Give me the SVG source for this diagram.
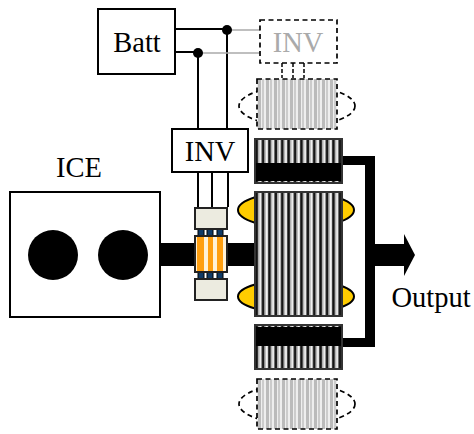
<svg xmlns="http://www.w3.org/2000/svg" width="474" height="434" viewBox="0 0 474 434">
<style>
text{font-family:"Liberation Serif","Times New Roman",serif;font-size:28.5px;fill:#000;text-anchor:middle}
.box{fill:#fff;stroke:#000;stroke-width:2}
.dash{stroke:#000;stroke-width:1.7;stroke-dasharray:5 3.5}
.wire{fill:none;stroke:#000;stroke-width:2}
.gray{fill:none;stroke:#aaa;stroke-width:1.5}
.y{fill:#ffcc00;stroke:#000;stroke-width:2}
.k{fill:#000}
.cream{fill:#ecebe0;stroke:#222;stroke-width:2}
.blue{fill:#0f3a66;stroke:#000;stroke-width:1}
</style>
<defs>
<pattern id="st" width="6.4" height="10" patternUnits="userSpaceOnUse" x="256"><rect width="6.4" height="10" fill="#f4f4f4"/><rect width="1.8" height="10" fill="#111"/><rect x="1.8" width="1.6" height="10" fill="#aaa"/><rect x="5.4" width="1" height="10" fill="#444"/></pattern>
<pattern id="st2" width="8" height="10" patternUnits="userSpaceOnUse" x="257"><rect width="8" height="10" fill="#eee"/><rect x="1" width="3" height="10" fill="#bbb"/><rect x="5" width="2" height="10" fill="#ccc"/></pattern>
</defs>
<g id="connectors">
<path class="wire" d="M175 29H227V129M175 52H198V129"/>
<path class="gray" d="M227 30H260M198 53H260"/>
<path class="wire" d="M198 172V207M212 172V207M228 172V207"/>
<path d="M282 63V78M293 63V78M304 63V78" fill="none" stroke="#000" stroke-width="1.5" stroke-dasharray="4 2"/>
<circle class="k" cx="227" cy="30" r="5"/><circle class="k" cx="198" cy="53" r="5"/>
<rect class="k" x="160" y="243" width="95" height="23"/>
<path class="k" d="M342 156H375V244H404V234L415 255L404 276V266H375V347H342V338H365V165H342Z"/>
</g>
<g id="batt"><rect class="box" x="98" y="9" width="77" height="65"/><text x="137" y="52">Batt</text></g>
<g id="inv-ghost"><rect x="260" y="20" width="77" height="43" fill="#fff" class="dash"/><text x="298" y="52" style="fill:#aaa">INV</text></g>
<g id="stator-ghost-top">
<ellipse cx="297" cy="106" rx="58" ry="20" fill="none" class="dash"/>
<rect x="257" y="79" width="80" height="50" fill="url(#st2)" class="dash"/>
</g>
<g id="inv"><rect class="box" x="172" y="129" width="76" height="43"/><text x="210" y="161">INV</text></g>
<g id="ice"><rect class="box" x="10" y="192" width="150" height="125"/><circle class="k" cx="53" cy="255" r="25"/><circle class="k" cx="123" cy="255" r="25"/><text x="79" y="177">ICE</text></g>
<g id="clutch">
<rect class="blue" x="198" y="229" width="6" height="7"/><rect class="blue" x="207" y="229" width="6" height="7"/><rect class="blue" x="217" y="229" width="6" height="7"/>
<rect class="blue" x="198" y="272" width="6" height="7"/><rect class="blue" x="207" y="272" width="6" height="7"/><rect class="blue" x="217" y="272" width="6" height="7"/>
<rect x="195" y="236" width="32" height="36" fill="#fff2d8" stroke="#222" stroke-width="2"/>
<rect x="197" y="237" width="7" height="34" fill="#ff9f10"/><rect x="208" y="237" width="5" height="34" fill="#ff9f10"/><rect x="217" y="237" width="6" height="34" fill="#ff9f10"/>
<rect class="cream" x="195" y="208" width="32" height="21"/>
<rect class="cream" x="195" y="279" width="32" height="21"/>
</g>
<g id="rotor">
<ellipse class="y" cx="296" cy="210" rx="58" ry="18"/>
<ellipse class="y" cx="296" cy="296.500" rx="58" ry="17"/>
<rect x="255" y="192" width="87" height="124" fill="url(#st)" stroke="#333" stroke-width="2"/>
</g>
<g id="stator-top">
<rect x="255" y="139" width="87" height="44" fill="url(#st)" stroke="#333" stroke-width="2"/>
<rect class="k" x="256" y="163" width="85" height="18"/>
</g>
<g id="stator-bottom">
<rect x="255" y="325" width="87" height="44" fill="url(#st)" stroke="#333" stroke-width="2"/>
<rect class="k" x="256" y="327" width="85" height="19"/>
</g>
<g id="stator-ghost-bottom">
<ellipse cx="297" cy="404" rx="58" ry="20" fill="none" class="dash"/>
<rect x="257" y="379" width="80" height="50" fill="url(#st2)" class="dash"/>
</g>
<text id="output" x="431" y="307">Output</text>
</svg>
